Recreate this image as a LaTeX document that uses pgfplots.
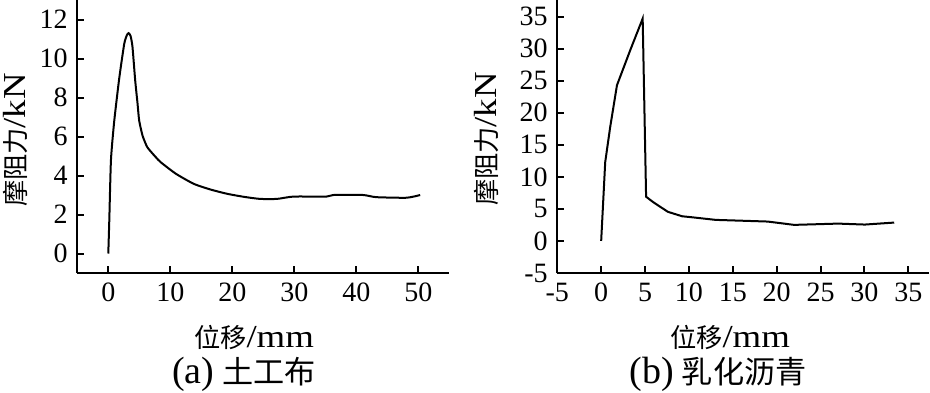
\documentclass[border=0pt]{standalone}
\usepackage{fontspec}
\setmainfont{Liberation Serif}
\newfontfamily\cjk[Scale=0.82]{Noto Sans CJK SC}
\usepackage{graphicx}
\usepackage{pgfplots}
\pgfplotsset{compat=1.18}
\pgfplotstableread{
x y
0 0
0.16 1.7
0.43 4.8
0.96 6.8
1.77 9.0
2.57 10.75
3.0 11.2
3.27 11.3
3.6 11.15
3.9 10.6
4.34 8.87
4.72 7.68
4.98 6.82
5.52 6.05
6.3 5.45
7.66 4.94
8.46 4.68
10.9 4.09
13.8 3.57
16.5 3.28
19.2 3.06
22 2.9
24.5 2.8
27.2 2.8
29.9 2.92
35.2 2.92
36.3 3.0
41.1 3.0
43.2 2.89
48.1 2.86
50.3 3.0
}\geotextile
\pgfplotstableread{
x y
0 0
0.46 12.3
1.03 17.8
1.8 24.3
3.32 29.8
4.73 34.7
5.12 6.9
5.99 6.0
7.6 4.55
9.24 3.85
10.2 3.72
13.06 3.29
18.98 3.03
22.0 2.51
27.0 2.71
30.05 2.56
33.4 2.87
}\asphalt
\newcommand{\lat}[1]{\scalebox{1.15}[1]{#1}}
\begin{document}
\fontsize{14}{16}\selectfont
\begin{tikzpicture}
\useasboundingbox (0,0) rectangle (465pt,-196pt);
\pgfplotsset{
 mystyle/.style={
  scale only axis, width=186pt, height=136.5pt,
  axis lines=left, axis line style={-, line width=1pt},
  every tick/.style={line width=1pt, black}, major tick length=3.5pt,
  tick align=inside,
  /pgf/number format/assume math mode=true,
  ticklabel style={font=\fontsize{14}{16}\selectfont},
  anchor=south west, clip=false,
 }}
\begin{axis}[mystyle, at={(38.65pt,-136.5pt)},
  xmin=-5, xmax=55, ymin=-1, ymax=13,
  xtick={0,10,...,50}, ytick={0,2,...,12}]
\addplot[black, line width=1pt, smooth, tension=0.35] table {\geotextile};
\end{axis}
\begin{axis}[mystyle, at={(278.65pt,-136.5pt)},
  xmin=-5, xmax=37.4, ymin=-5, ymax=37.6,
  xtick={-5,0,...,35}, ytick={-5,0,...,35}]
\addplot[black, line width=1pt] table {\asphalt};
\end{axis}
\tikzset{mylab/.style={inner sep=0pt, font=\fontsize{16}{18}\selectfont}}
\node[mylab, rotate=90] at (7.5pt,-70pt) {{\cjk 摩阻力}\lat{/kN}};
\node[mylab, rotate=90] at (243pt,-69.5pt) {{\cjk 摩阻力}\lat{/kN}};
\node[mylab] at (127pt,-168.5pt) {{\cjk 位移}\lat{/mm}};
\node[mylab] at (365pt,-168.5pt) {{\cjk 位移}\lat{/mm}};
\tikzset{mycap/.style={inner sep=0pt, font=\fontsize{19}{21}\selectfont}}
\node[mycap] at (122pt,-187pt) {(a)\hspace{4pt}{\cjk 土工布}};
\node[mycap] at (359pt,-187pt) {(b)\hspace{4pt}{\cjk 乳化沥青}};
\end{tikzpicture}
\end{document}
